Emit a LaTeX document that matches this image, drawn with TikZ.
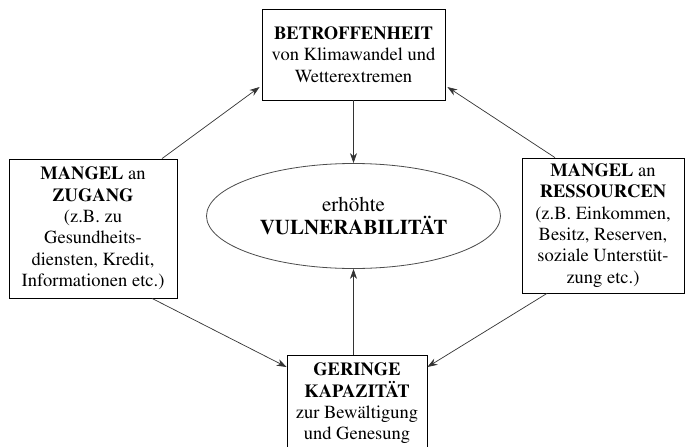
\documentclass[tikz,border=0pt]{standalone}
\usepackage[T1]{fontenc}
\usepackage{mathptmx}
\usetikzlibrary{shapes.geometric,arrows.meta,shadows}
\begin{document}
\begin{tikzpicture}[x=1pt,y=-1pt,
  box/.style={draw=black,line width=0.8pt,fill=white,inner sep=0pt,align=center,
    font=\fontsize{18.5}{21.3}\selectfont,
    drop shadow={shadow xshift=1.3pt,shadow yshift=-1.3pt,fill=black!45,opacity=1}},
  ell/.style={ellipse,draw=black!70,line width=0.8pt,inner sep=0pt,align=center,
    font=\fontsize{21}{23.5}\selectfont},
  conn/.style={draw=black!80,line width=0.7pt,-{Stealth[length=10pt,width=7pt]}}]
\useasboundingbox (0,0) rectangle (688,447);
\fill[white] (0,0) rectangle (688,447);

\node[box,minimum width=183pt,minimum height=91pt] (T) at (353.5,54.5)
  {\textbf{BETROFFENHEIT}\\von Klimawandel und\\Wetterextremen};
\node[box,minimum width=168pt,minimum height=139pt] (L) at (93,228.5)
  {\textbf{MANGEL} an\\\textbf{ZUGANG}\\(z.B. zu\\Gesundheits-\\diensten, Kredit,\\Informationen etc.)};
\node[box,minimum width=162pt,minimum height=135pt] (R) at (603,225.5)
  {\textbf{MANGEL} an\\\textbf{RESSOURCEN}\\(z.B. Einkommen,\\Besitz, Reserven,\\soziale Unterstüt-\\zung etc.)};
\node[box,minimum width=140pt,minimum height=97pt] (B) at (357,403.5)
  {\textbf{GERINGE}\\\textbf{KAPAZITÄT}\\zur Bewältigung\\und Genesung};
\node[ell,minimum width=294pt,minimum height=105pt] (E) at (353.5,216)
  {erhöhte\\\textbf{VULNERABILITÄT}};

\draw[conn] ([xshift=69pt]L.north) -- ([xshift=-2pt,yshift=-32.5pt]T.west);
\draw[conn] ([xshift=-48pt]R.north) -- ([xshift=2pt,yshift=-32.5pt]T.east);
\draw[conn] (T.south) -- (E.north);
\draw[conn] (E.south |- B.north) -- (E.south);
\draw[conn] ([xshift=59pt]L.south) -- ([yshift=36.5pt]B.west);
\draw[conn] ([xshift=-56pt]R.south) -- ([yshift=36.5pt]B.east);
\end{tikzpicture}
\end{document}
